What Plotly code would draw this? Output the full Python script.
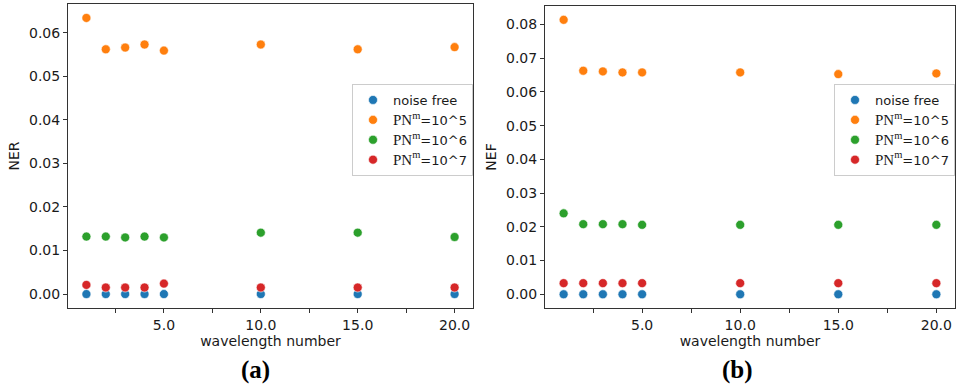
import plotly.graph_objects as go

W, H = 957, 388

wavelengths = [1, 2, 3, 4, 5, 10, 15, 20]

series_names = ["noise free",
                "<span style='font-family:Liberation Serif;font-size:15px'>PN<sup>m</sup></span>=10^5",
                "<span style='font-family:Liberation Serif;font-size:15px'>PN<sup>m</sup></span>=10^6",
                "<span style='font-family:Liberation Serif;font-size:15px'>PN<sup>m</sup></span>=10^7"]
colors = ["#1f77b4", "#ff7f0e", "#2ca02c", "#d62728"]

# (a) NER
ner_noise_free = [0, 0, 0, 0, 0, 0, 0, 0]
ner_pn1e5 = [0.0634, 0.0562, 0.0566, 0.0573, 0.0559, 0.0573, 0.0562, 0.0567]
ner_pn1e6 = [0.0132, 0.0132, 0.0130, 0.0132, 0.0130, 0.0141, 0.0141, 0.0131]
ner_pn1e7 = [0.0021, 0.0015, 0.0015, 0.0015, 0.0024, 0.0015, 0.0015, 0.0015]

# (b) NEF
nef_noise_free = [0, 0, 0, 0, 0, 0, 0, 0]
nef_pn1e5 = [0.0814, 0.0663, 0.0661, 0.0658, 0.0658, 0.0658, 0.0653, 0.0655]
nef_pn1e6 = [0.0240, 0.0208, 0.0208, 0.0208, 0.0206, 0.0206, 0.0206, 0.0206]
nef_pn1e7 = [0.0033, 0.0033, 0.0033, 0.0033, 0.0033, 0.0033, 0.0033, 0.0033]

x_tickvals = [5, 10, 15, 20]
x_ticktext = ["5.0", "10.0", "15.0", "20.0"]
x_minor_ticks = [2.5, 7.5, 12.5, 17.5]

fig = go.Figure()

for name, col, ys in zip(series_names, colors, [ner_noise_free, ner_pn1e5, ner_pn1e6, ner_pn1e7]):
    fig.add_trace(go.Scatter(x=wavelengths, y=ys, mode="markers", name=name,
                             marker=dict(color=col, size=9, line=dict(color="white", width=0.6)),
                             xaxis="x", yaxis="y", legend="legend"))
for name, col, ys in zip(series_names, colors, [nef_noise_free, nef_pn1e5, nef_pn1e6, nef_pn1e7]):
    fig.add_trace(go.Scatter(x=wavelengths, y=ys, mode="markers", name=name,
                             marker=dict(color=col, size=9, line=dict(color="white", width=0.6)),
                             xaxis="x2", yaxis="y2", legend="legend2"))

font = dict(family="DejaVu Sans", size=14, color="#1a1a1a")
axis_common = dict(showline=True, linecolor="#333333", linewidth=1, mirror=True,
                   ticks="outside", ticklen=4, tickcolor="#333333", showgrid=False,
                   zeroline=False, tickfont=font, automargin=False)
minor = dict(tickvals=x_minor_ticks, ticks="outside", ticklen=4, tickcolor="#333333", showgrid=False)

xr = [0.05, 20.95]
legend_font = dict(family="DejaVu Sans", size=13, color="#1a1a1a")
fig.update_layout(
    width=W, height=H,
    margin=dict(l=0, r=0, t=0, b=0),
    paper_bgcolor="white", plot_bgcolor="white",
    font=font,
    xaxis=dict(domain=[68 / W, 473 / W], range=xr, tickvals=x_tickvals, ticktext=x_ticktext, minor=minor,
               title=dict(text="wavelength number", font=font, standoff=4), anchor="y", **axis_common),
    yaxis=dict(domain=[1 - 308 / H, 1 - 4 / H], range=[-0.0032, 0.0666], tickvals=[0, 0.01, 0.02, 0.03, 0.04, 0.05, 0.06],
               tickformat=".2f", title=dict(text="NER", font=font, standoff=6), anchor="x", **axis_common),
    xaxis2=dict(domain=[545 / W, 955 / W], range=xr, tickvals=x_tickvals, ticktext=x_ticktext, minor=minor,
                title=dict(text="wavelength number", font=font, standoff=4), anchor="y2", **axis_common),
    yaxis2=dict(domain=[1 - 308 / H, 1 - 6 / H], range=[-0.00407, 0.0855],
                tickvals=[0, 0.01, 0.02, 0.03, 0.04, 0.05, 0.06, 0.07, 0.08],
                tickformat=".2f", title=dict(text="NEF", font=font, standoff=6), anchor="x2", **axis_common),
    legend=dict(x=352 / W, y=1 - 84 / H, xanchor="left", yanchor="top",
                bgcolor="rgba(255,255,255,0.8)", bordercolor="#cccccc", borderwidth=1,
                font=legend_font, tracegroupgap=0, itemwidth=30),
    legend2=dict(x=834 / W, y=1 - 84 / H, xanchor="left", yanchor="top",
                 bgcolor="rgba(255,255,255,0.8)", bordercolor="#cccccc", borderwidth=1,
                 font=legend_font, tracegroupgap=0, itemwidth=30),
    showlegend=True,
    annotations=[
        dict(text="<b>(a)</b>", x=255 / W, y=1 - 370 / H, xref="paper", yref="paper",
             xanchor="center", yanchor="middle",
             showarrow=False, font=dict(family="Liberation Serif", size=25, color="black")),
        dict(text="<b>(b)</b>", x=737 / W, y=1 - 370 / H, xref="paper", yref="paper",
             xanchor="center", yanchor="middle",
             showarrow=False, font=dict(family="Liberation Serif", size=25, color="black")),
    ],
)

div = fig.to_html(full_html=False, include_plotlyjs=True, config={"displayModeBar": False})
html = ("<!DOCTYPE html><html><head><meta charset='utf-8'>"
        "<style>html,body{margin:0;padding:0;overflow:hidden;background:white;}</style>"
        "</head><body>" + div + "</body></html>")
with open("out.html", "w", encoding="utf-8") as f:
    f.write(html)
